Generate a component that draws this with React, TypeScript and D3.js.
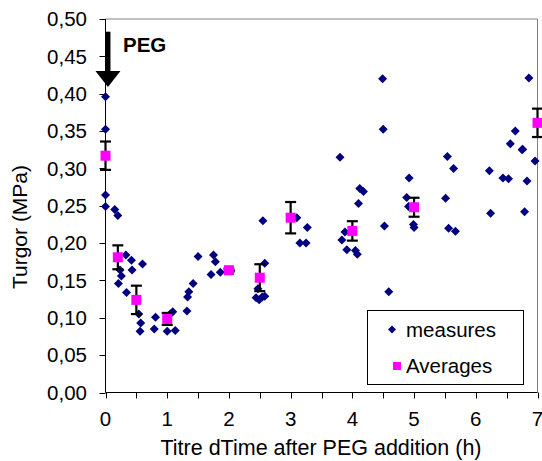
import React from 'react';
import * as d3 from 'd3';

// measured turgor, individual cells (time h, MPa)
const measureTimes = [
  0, 0, 0, 0, 0.15, 0.2, 0.33, 0.42, 0.6, 0.235, 0.43, 0.257, 0.21, 0.34,
  0.54, 0.57, 0.56, 0.81, 0.79, 1.0, 1.09, 1.05, 1.13, 1.32, 1.33, 1.35, 1.42,
  1.5, 1.71, 1.75, 1.78, 1.86, 2.03, 2.55, 2.58, 2.47, 2.44, 2.49, 2.58, 2.54,
  3.1, 3.27, 3.15, 3.25, 3.8, 4.12, 4.18, 4.1, 3.88, 3.83, 3.91, 4.05, 4.08,
  4.52, 4.59, 4.92, 4.88, 4.99, 5.0, 4.91, 5.54, 5.64, 5.51, 5.56, 5.67, 6.22,
  6.24, 6.44, 6.53, 6.75, 6.83, 6.79, 6.96, 4.49, 4.5, 6.86, 6.64, 6.56, 6.76,
];
const measureValues = [
  0.396, 0.3525, 0.2645, 0.249, 0.245, 0.237, 0.184, 0.177, 0.172, 0.164, 0.164, 0.156, 0.146, 0.134,
  0.105, 0.093, 0.082, 0.1007, 0.085, 0.082, 0.108, 0.105, 0.083, 0.109, 0.128, 0.135, 0.146,
  0.182, 0.158, 0.184, 0.175, 0.161, 0.163, 0.23, 0.173, 0.139, 0.127, 0.124, 0.129, 0.128,
  0.234, 0.221, 0.2, 0.2, 0.315, 0.273, 0.269, 0.253, 0.215, 0.204, 0.191, 0.19, 0.185,
  0.223, 0.135, 0.287, 0.261, 0.225, 0.221, 0.249, 0.316, 0.3, 0.26, 0.22, 0.216, 0.297,
  0.24, 0.287, 0.286, 0.325, 0.283, 0.242, 0.31, 0.42, 0.3525, 0.421, 0.35, 0.333, 0.3257,
];

// averages with error bars
const avgTimes = [0, 0.2, 0.5, 1, 2, 2.5, 3, 4, 5, 7];
const avgValues = [0.317, 0.181, 0.124, 0.0985, 0.1637, 0.1537, 0.234, 0.2163, 0.248, 0.361];
const avgErrors = [0.019, 0.016, 0.019, 0.008, 0.002, 0.018, 0.021, 0.013, 0.0127, 0.019];

const yTicks = [0, 0.05, 0.1, 0.15, 0.2, 0.25, 0.3, 0.35, 0.4, 0.45, 0.5];
const xTicks = [0, 1, 2, 3, 4, 5, 6, 7];
const xMinorTicks = [0, 0.5, 1, 1.5, 2, 2.5, 3, 3.5, 4, 4.5, 5, 5.5, 6, 6.5, 7];

// PEG arrow (time, top value, tip value)
const pegArrow = { t: 0.04, from: 0.483, to: 0.409 };

const FONT = '"Liberation Sans", Arial, sans-serif';
const NAVY = '#000080';
const PINK = '#FF00FF';

const diamond = (cx: number, cy: number, r: number) =>
  `M${cx},${cy - r}L${cx + r},${cy}L${cx},${cy + r}L${cx - r},${cy}Z`;

export default function App() {
  const x = d3.scaleLinear().domain([0, 7]).range([105.5, 537.5]);
  const y = d3.scaleLinear().domain([0, 0.5]).range([392.5, 19]);
  const fmt = (v: number) => d3.format('.2f')(v).replace('.', ',');

  const ax = x(pegArrow.t);
  const aTop = y(pegArrow.from);
  const aTip = y(pegArrow.to);

  return (
    <svg width={542} height={461} style={{ position: 'absolute', left: 0, top: 0, background: '#fff' }}
      fontFamily={FONT}>
      <rect x={0} y={0} width={542} height={461} fill="#fff" />
      {/* frame */}
      <line x1={x(0)} x2={x(7)} y1={y(0.5)} y2={y(0.5)} stroke="#808080" strokeWidth={1} />
      <line x1={x(7)} x2={x(7)} y1={y(0.5)} y2={y(0)} stroke="#808080" strokeWidth={1} />

      {/* y axis */}
      <line x1={x(0)} x2={x(0)} y1={y(0.5)} y2={y(0)} stroke="#000" />
      {yTicks.map((t) => (
        <g key={'y' + t}>
          <line x1={x(0) - 6} x2={x(0)} y1={Math.round(y(t)) + 0.5} y2={Math.round(y(t)) + 0.5} stroke="#000" />
          <text x={87} y={y(t)} dy="0.35em" textAnchor="end" fontSize={20.5} fill="#000">{fmt(t)}</text>
        </g>
      ))}

      {/* x axis */}
      <line x1={x(0)} x2={x(7)} y1={y(0)} y2={y(0)} stroke="#000" />
      {xMinorTicks.map((t) => (
        <line key={'xm' + t} x1={Math.round(x(t)) + 0.5} x2={Math.round(x(t)) + 0.5} y1={y(0)} y2={y(0) + 6} stroke="#000" />
      ))}
      {xTicks.map((t) => (
        <text key={'x' + t} x={x(t)} y={425.5} textAnchor="middle" fontSize={20.5} fill="#000">{t}</text>
      ))}

      <text x={321} y={455} textAnchor="middle" fontSize={21.5} fill="#000">Titre dTime after PEG addition (h)</text>
      <text transform="translate(27,227) rotate(-90)" textAnchor="middle" fontSize={21} fill="#000">Turgor (MPa)</text>

      {/* measures */}
      {measureTimes.map((t, i) => (
        <path key={'m' + i} d={diamond(x(t), y(measureValues[i]), 4.5)} fill={NAVY} />
      ))}

      {/* error bars */}
      {avgTimes.map((t, i) => {
        const cx = x(t);
        const y1 = y(avgValues[i] + avgErrors[i]);
        const y2 = y(avgValues[i] - avgErrors[i]);
        return (
          <g key={'e' + i} stroke="#000" strokeWidth={2.2}>
            <line x1={cx} x2={cx} y1={y1} y2={y2} />
            <line x1={cx - 5.5} x2={cx + 5.5} y1={y1} y2={y1} />
            <line x1={cx - 5.5} x2={cx + 5.5} y1={y2} y2={y2} />
          </g>
        );
      })}

      {/* averages */}
      {avgTimes.map((t, i) => (
        <rect key={'a' + i} x={x(t) - 5} y={y(avgValues[i]) - 5} width={10} height={10} fill={PINK} />
      ))}

      {/* PEG arrow */}
      <line x1={ax} x2={ax} y1={aTop} y2={aTip - 14} stroke="#000" strokeWidth={5} />
      <path d={`M${ax - 12.5},${aTip - 16}L${ax + 12.5},${aTip - 16}L${ax},${aTip}Z`} fill="#000" />
      <text x={123} y={52} fontSize={20.5} fontWeight="bold" fill="#000">PEG</text>

      {/* legend */}
      <rect x={367.5} y={310.5} width={156} height={74} fill="#fff" stroke="#000" strokeWidth={1} />
      <path d={diamond(392, 329.5, 4)} fill={NAVY} />
      <text x={406} y={336.5} fontSize={20.5} fill="#000">measures</text>
      <rect x={393} y={362} width={8} height={8} fill={PINK} />
      <text x={406} y={373} fontSize={20.5} fill="#000">Averages</text>
    </svg>
  );
}
